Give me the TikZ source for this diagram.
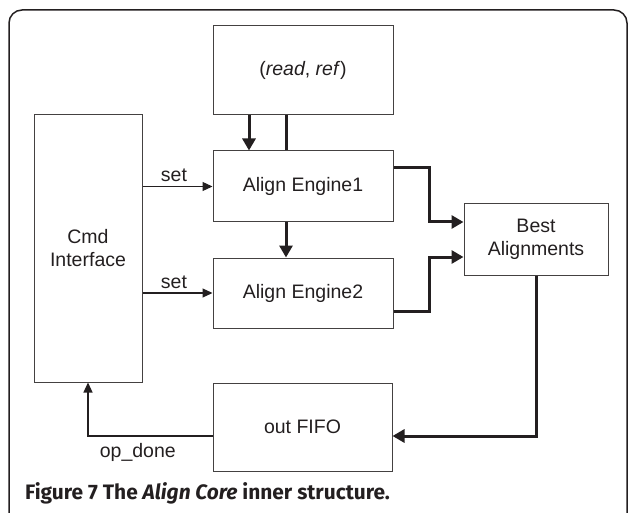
\documentclass[tikz,border=0pt]{standalone}
\usepackage{fontspec}
\setmainfont{Liberation Sans}
\newfontfamily\capfont{Fira Sans}
\usetikzlibrary{arrows.meta}
\definecolor{ink}{HTML}{231F20}
\tikzset{
  block/.style={draw=ink!85, line width=1pt, inner sep=0pt, align=center,
    font=\fontsize{19.5}{23}\selectfont, text=ink},
  thin/.style={draw=ink, line width=1.2pt, -{Triangle[length=10pt,width=9pt]}},
  thick/.style={draw=ink, line width=3pt, -{Triangle[length=12pt,width=13pt]}},
  plainthick/.style={draw=ink, line width=3pt},
  tag/.style={font=\fontsize{19.5}{23}\selectfont, text=ink, inner sep=2pt},
}
\begin{document}
\begin{tikzpicture}[x=1pt, y=-1pt]
\useasboundingbox (0,0) rectangle (629,513);
\begin{scope}
  \clip (0,0) rectangle (629,513);
  \draw[ink, line width=1.5pt, rounded corners=13pt]
    (9,540) -- (9,10) -- (627,10) -- (627,540);
\end{scope}

% blocks
\node[block, minimum width=180pt, minimum height=89pt] (rr) at (303,70.5)
  {(\textit{read}, \textit{ref})};
\node[block, minimum width=180pt, minimum height=71pt] (ae1) at (303,186.5)
  {Align Engine1};
\node[block, minimum width=180pt, minimum height=70pt] (ae2) at (303,293)
  {Align Engine2};
\node[block, minimum width=108pt, minimum height=267pt] (cmd) at (88,248.5)
  {Cmd\\Interface};
\node[block, minimum width=144pt, minimum height=71pt] (best) at (536,239.5)
  {Best\\Alignments};
\node[block, minimum width=179pt, minimum height=88pt] (fifo) at (302.5,427)
  {out FIFO};

% data path
\draw[thick] ([xshift=-54pt]rr.south) -- ([xshift=-54pt]ae1.north);
\draw[plainthick] ([xshift=-17pt]ae1.north) -- ([xshift=-17pt]rr.south);
\draw[thick] ([xshift=-17pt]ae1.south) -- ([xshift=-17pt]ae2.north);
\draw[thick] ([yshift=18.5pt]ae1.east) -- ++(36,0) |- ([yshift=17.5pt]best.west);
\draw[thick] ([yshift=-18pt]ae2.east) -- ++(36,0) |- ([yshift=-17.5pt]best.west);
\draw[thick] (best.south) |- ([yshift=-9pt]fifo.east);

% control path
\draw[thin] (ae1.west -| cmd.east) -- node[tag, above, pos=0.45, yshift=2pt] {set} (ae1.west);
\draw[thin] (ae2.west -| cmd.east) -- node[tag, above, pos=0.45, yshift=2pt] {set} (ae2.west);
\draw[thin] ([yshift=-9pt]fifo.west) -| node[tag, below, pos=0.3, yshift=-5pt] {op\_done} (cmd.south);

% caption
\node[anchor=west, inner sep=0pt, text=ink, font=\capfont\bfseries\fontsize{20.9}{24}\selectfont]
  (cap) at (25,493) {Figure 7 The \textit{Align Core} inner structure.};
\end{tikzpicture}
\end{document}
